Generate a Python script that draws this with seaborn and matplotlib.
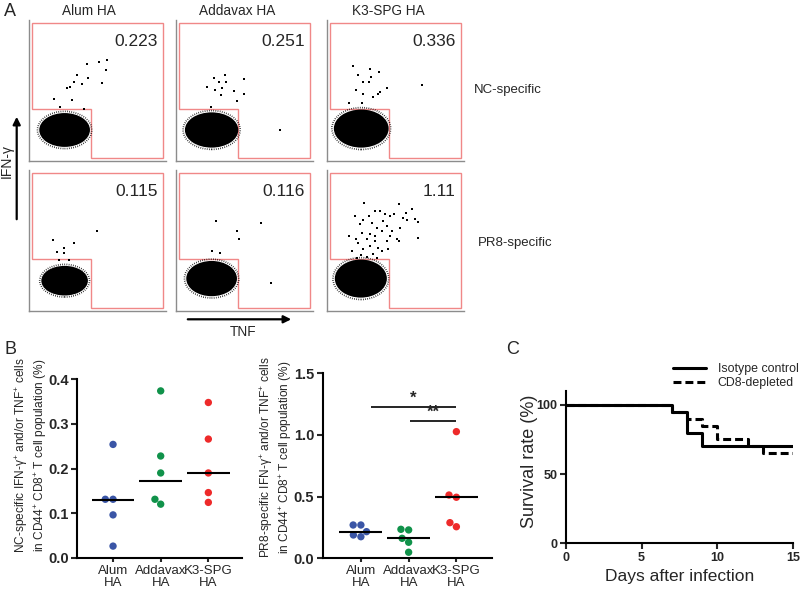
import matplotlib
matplotlib.use("Agg")
import matplotlib.pyplot as plt
from matplotlib.patches import Ellipse, FancyArrowPatch, Polygon
import numpy as np
import pandas as pd
import seaborn as sns

sns.set_theme(style="ticks")
plt.rcParams["font.family"] = ["Liberation Sans", "DejaVu Sans"]
plt.rcParams["mathtext.fontset"] = "custom"
plt.rcParams["mathtext.rm"] = "Liberation Sans"
plt.rcParams["mathtext.it"] = "Liberation Sans:italic"
plt.rcParams["mathtext.bf"] = "Liberation Sans:bold"

# ---------------- data ----------------
adjuvants = ["Alum HA", "Addavax HA", "K3-SPG HA"]
group_labels = ["Alum\nHA", "Addavax\nHA", "K3-SPG\nHA"]
dot_colors = ["#3a55a6", "#10924a", "#ee2a2a"]

# panel A: gate frequencies (%)
nc_gate_pct = ["0.223", "0.251", "0.336"]
pr8_gate_pct = ["0.115", "0.116", "1.11"]

# gate outline (TNF, IFN-g) on a 0-100 fluorescence scale
gate_vertices = [(2, 98), (2, 37), (45.5, 37), (45.5, 2), (98, 2), (98, 98)]

# dense negative population: (TNF centre, IFN-g centre, width, height)
nc_blobs = [(26, 22, 37, 24), (26, 22, 39, 25), (25, 23, 40, 27)]
pr8_blobs = [(26, 21.5, 34, 21), (26, 23, 37, 25), (24.7, 23, 38, 27)]

# sparse events (TNF, IFN-g)
nc_alum_events = [(42.6, 68.6), (51.3, 70.4), (57.2, 71.4), (56.2, 64.5), (35.3, 61.2),
                  (42.8, 58.9), (32.8, 56.2), (53.5, 55.5), (27.5, 51.6), (30.1, 52.3),
                  (38.4, 54.4), (18.5, 44.2), (31.4, 43.3), (22.6, 38.5), (40, 37)]
nc_addavax_events = [(35.8, 61), (28, 59.1), (49.9, 58.2), (31.6, 56.3), (36.7, 56.3),
                     (22.4, 52.7), (33.8, 52), (28.5, 50.4), (42.1, 49.6), (49.9, 47.5),
                     (32.8, 46.6), (44.7, 42.6), (25.3, 38.5), (75.9, 22)]
nc_k3_events = [(18.7, 67.4), (31.4, 65.2), (37.7, 63.3), (22.9, 61), (32.1, 59.4),
                (26.4, 56.2), (30.7, 56.2), (43.6, 52), (21.1, 50.4), (39, 49.2),
                (26.5, 47.3), (33.4, 45.6), (37, 47.3), (16.1, 41.3), (69.6, 53.9),
                (25.3, 40.9)]
pr8_alum_events = [(49.4, 57), (17.8, 50.6), (32.8, 48), (25.3, 44.5), (20.7, 41.6),
                   (25.5, 40.9), (22.1, 36.4), (29, 36.4)]
pr8_addavax_events = [(29, 63.8), (62.3, 62.4), (44.3, 56.5), (45.7, 51.3), (26.3, 42.6),
                      (31.9, 41.3), (69.1, 20)]
pr8_k3_events = [(27.2, 76.8), (52.6, 76.1), (57.7, 69.7), (62.3, 72.6), (38.7, 70.9),
                 (35.3, 70.9), (42.3, 68.6), (46, 67.4), (49.1, 69), (55.7, 66.2),
                 (58.2, 64.3), (64.5, 65), (66.4, 63.1), (30.9, 67.4), (26.5, 64.3),
                 (20.4, 67.4), (24.1, 61.5), (32.6, 62.6), (41.1, 63.8), (44, 60.3),
                 (36.3, 59.1), (39.9, 56.7), (47.2, 56.7), (53.3, 59.1), (52.3, 49.6),
                 (66.6, 52), (31.4, 54.4), (25.3, 55.5), (16.3, 53.2), (21.2, 50.8),
                 (29, 50.8), (35, 49.6), (43.6, 49.6), (50.9, 50.8), (37.4, 44.9),
                 (31.4, 46.1), (22.8, 48.4), (18, 42.6), (26.5, 43.7), (39.9, 42.6),
                 (44.7, 43.7), (33.8, 40.2), (29, 38.3), (36.3, 37.8), (21.7, 37.8),
                 (24.8, 39.7), (46, 53.2), (35, 53.2)]

# panel B: % cytokine+ of CD44+ CD8+ T cells
nc_alum = [0.254, 0.131, 0.131, 0.096, 0.026]
nc_addavax = [0.374, 0.228, 0.19, 0.131, 0.12]
nc_k3 = [0.348, 0.266, 0.19, 0.146, 0.124]
nc_medians = [0.13, 0.172, 0.19]

pr8_alum = [0.27, 0.27, 0.216, 0.189, 0.175]
pr8_addavax = [0.235, 0.23, 0.162, 0.13, 0.049]
pr8_k3 = [1.027, 0.513, 0.495, 0.289, 0.256]
pr8_medians = [0.216, 0.162, 0.495]

sig_starts = [0.21, 1.03]
sig_ends = [2.0, 2.0]
sig_heights = [1.225, 1.116]
sig_labels = ["*", "**"]

# panel C: survival (%)
iso_days = [0, 7, 8, 9, 15]
iso_survival = [100, 95, 80, 70, 70]
cd8_days = [0, 7, 8, 9, 10, 12, 13, 15]
cd8_survival = [100, 95, 90, 85, 75, 70, 65, 65]

# ---------------- layout helpers ----------------
W, H = 800, 594


def box(left, top, right, bottom):
    return [left / W, 1 - bottom / H, (right - left) / W, (bottom - top) / H]


def fpos(x, y):
    return x / W, 1 - y / H


fig = plt.figure(figsize=(8, 5.94), dpi=100)


# ---------------- panel A ----------------
def draw_flow(axis, events, blob, pct):
    axis.add_patch(Polygon(gate_vertices, closed=True, fill=False,
                           edgecolor="#f08888", linewidth=1.0, zorder=1))
    cx, cy, w, h = blob
    axis.add_patch(Ellipse((cx, cy), w, h, facecolor="black", edgecolor="none", zorder=2))
    axis.add_patch(Ellipse((cx, cy), w * 1.07, h * 1.1, fill=False, edgecolor="black",
                           linewidth=1.2, linestyle=(0, (0.4, 0.9)), zorder=2))
    frame = pd.DataFrame(events, columns=["tnf", "ifn"])
    sns.scatterplot(data=frame, x="tnf", y="ifn", ax=axis, s=2, marker="s",
                    color="black", linewidth=0, zorder=3)
    axis.set(xlim=(0, 100), ylim=(0, 100), xlabel="", ylabel="", xticks=[], yticks=[])
    axis.text(94, 85, pct, ha="right", va="center", fontsize=12.5)
    for side in ["top", "right"]:
        axis.spines[side].set_visible(False)
    for side in ["left", "bottom"]:
        axis.spines[side].set_color("#8c8c8c")
        axis.spines[side].set_linewidth(1.0)


col_left = [29, 176, 327]
row_top = [20, 170]
flow_events = [[nc_alum_events, nc_addavax_events, nc_k3_events],
               [pr8_alum_events, pr8_addavax_events, pr8_k3_events]]
flow_blobs = [nc_blobs, pr8_blobs]
flow_pct = [nc_gate_pct, pr8_gate_pct]

for row in range(2):
    for col in range(3):
        axis = fig.add_axes(box(col_left[col], row_top[row],
                                col_left[col] + 137, row_top[row] + 141))
        draw_flow(axis, flow_events[row][col], flow_blobs[row][col], flow_pct[row][col])

for name, xc in zip(adjuvants, [89, 237, 388]):
    fig.text(*fpos(xc, 11), name, ha="center", va="center", fontsize=9.8)

fig.text(*fpos(474, 90), "NC-specific", ha="left", va="center", fontsize=9.5)
fig.text(*fpos(478, 243), "PR8-specific", ha="left", va="center", fontsize=9.5)

fig.add_artist(FancyArrowPatch(fpos(16.7, 222), fpos(16.7, 114), transform=fig.transFigure,
                               arrowstyle="-|>", mutation_scale=11, linewidth=1.6,
                               color="black"))
fig.add_artist(FancyArrowPatch(fpos(185, 319.3), fpos(294, 319.3), transform=fig.transFigure,
                               arrowstyle="-|>", mutation_scale=11, linewidth=1.6,
                               color="black"))
fig.text(*fpos(7, 161), "IFN-γ", rotation=90, ha="center", va="center", fontsize=10)
fig.text(*fpos(243, 332), "TNF", ha="center", va="center", fontsize=9.8)

fig.text(*fpos(10, 12), "A", ha="center", va="center", fontsize=13)
fig.text(*fpos(10, 350), "B", ha="center", va="center", fontsize=13)
fig.text(*fpos(513, 350), "C", ha="center", va="center", fontsize=13)


# ---------------- panel B ----------------
def draw_dots(axis, groups, medians, ylim, yticks, fmt):
    frame = pd.DataFrame({
        "group": np.repeat(group_labels, [len(g) for g in groups]),
        "value": np.concatenate(groups),
    })
    sns.swarmplot(data=frame, x="group", y="value", hue="group", order=group_labels,
                  hue_order=group_labels, palette=dot_colors, size=5.3, ax=axis,
                  legend=False, zorder=3)
    positions = np.arange(len(group_labels))
    axis.hlines(medians, positions - 0.45, positions + 0.45, color="black",
                linewidth=1.5, zorder=4)
    axis.set_ylim(*ylim)
    axis.set_yticks(yticks)
    axis.set_yticklabels([fmt.format(v) for v in yticks], fontweight="bold", fontsize=10.5)
    axis.tick_params(axis="x", labelsize=9.5, length=3, width=1.5, pad=2)
    axis.tick_params(axis="y", length=4, width=1.5, pad=2)
    for label in axis.get_xticklabels():
        label.set_linespacing(1.0)
    axis.set_xlabel("")
    axis.set_ylabel("")
    sns.despine(ax=axis)
    for side in ["left", "bottom"]:
        axis.spines[side].set_linewidth(1.5)
        axis.spines[side].set_color("black")


ax_nc = fig.add_axes(box(77.3, 379.3, 241.7, 557.7))
draw_dots(ax_nc, [nc_alum, nc_addavax, nc_k3], nc_medians, (0, 0.4),
          [0.0, 0.1, 0.2, 0.3, 0.4], "{:.1f}")
ax_nc.set_xlim(-0.75, 2.7)

ax_pr8 = fig.add_axes(box(322.7, 373.3, 491.7, 558.3))
draw_dots(ax_pr8, [pr8_alum, pr8_addavax, pr8_k3], pr8_medians, (0, 1.5),
          [0.0, 0.5, 1.0, 1.5], "{:.1f}")
ax_pr8.set_xlim(-0.8, 2.74)
for start, end, height, label in zip(sig_starts, sig_ends, sig_heights, sig_labels):
    ax_pr8.hlines(height, start, end, color="black", linewidth=1.2)
    ax_pr8.text((start + end) / 2, height + 0.01, label, ha="center", va="bottom",
                fontsize=12, fontweight="bold")

fig.text(*fpos(31.5, 455),
         "NC-specific IFN-γ$^{+}$ and/or TNF$^{+}$ cells\n"
         "in CD44$^{+}$ CD8$^{+}$ T cell population (%)",
         rotation=90, ha="center", va="center", fontsize=8.6, linespacing=1.2)
fig.text(*fpos(276, 457),
         "PR8-specific IFN-γ$^{+}$ and/or TNF$^{+}$ cells\n"
         "in CD44$^{+}$ CD8$^{+}$ T cell population (%)",
         rotation=90, ha="center", va="center", fontsize=8.6, linespacing=1.2)

# ---------------- panel C ----------------
survival = pd.DataFrame({
    "day": iso_days + cd8_days,
    "survival": iso_survival + cd8_survival,
    "group": ["Isotype control"] * len(iso_days) + ["CD8-depleted"] * len(cd8_days),
})
ax_c = fig.add_axes(box(565.7, 391, 793.3, 543.3))
sns.lineplot(data=survival, x="day", y="survival", hue="group", style="group",
             hue_order=["Isotype control", "CD8-depleted"],
             style_order=["Isotype control", "CD8-depleted"],
             palette=["black", "black"],
             dashes={"Isotype control": "", "CD8-depleted": (2.6, 1.3)},
             drawstyle="steps-post", linewidth=2.2, estimator=None, ax=ax_c)
ax_c.set(xlim=(0, 15), ylim=(0, 110), xticks=[0, 5, 10, 15], yticks=[0, 50, 100])
ax_c.set_xticklabels(["0", "5", "10", "15"], fontweight="bold", fontsize=9)
ax_c.set_yticklabels(["0", "50", "100"], fontweight="bold", fontsize=9)
ax_c.tick_params(length=4, width=1.5, pad=2)
ax_c.set_xlabel("Days after infection", fontsize=12.5, labelpad=4)
ax_c.set_ylabel("")
fig.text(*fpos(529, 461), "Survival rate (%)", rotation=90, ha="center", va="center",
         fontsize=13)
sns.despine(ax=ax_c)
for side in ["left", "bottom"]:
    ax_c.spines[side].set_linewidth(1.5)
    ax_c.spines[side].set_color("black")
sns.move_legend(ax_c, "center left", bbox_to_anchor=fpos(673, 376),
                bbox_transform=fig.transFigure, frameon=False, title=None,
                fontsize=8.9, handlelength=2.65, handletextpad=0.95,
                labelspacing=0.15, borderpad=0, borderaxespad=0)

fig.savefig("out.png", dpi=100)
plt.close(fig)
